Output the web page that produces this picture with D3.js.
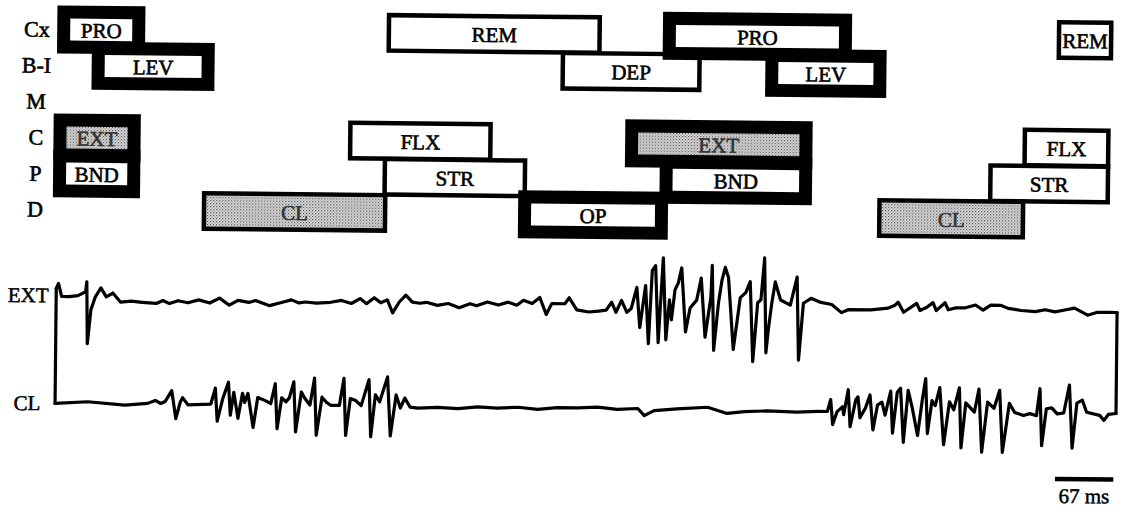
<!DOCTYPE html>
<html><head><meta charset="utf-8">
<script src="https://cdn.jsdelivr.net/npm/d3@7"></script>
<style>html,body{margin:0;padding:0;background:#fff;}svg{display:block;}</style>
</head><body>
<svg id="chart" width="1147" height="512"></svg>
<script>
// ---- data ----
const rows = ["Cx", "B-I", "M", "C", "P", "D"];
const traceNames = ["EXT", "CL"];

// open (outlined) phases, times in ms
const openPhases = [
  {row: "Cx",  label: "REM", start: 376,  end: 623,  stippled: false},
  {row: "B-I", label: "DEP", start: 576,  end: 738,  stippled: false},
  {row: "C",   label: "FLX", start: 333,  end: 499,  stippled: false},
  {row: "P",   label: "STR", start: 373,  end: 539,  stippled: false},
  {row: "D",   label: "CL",  start: 166,  end: 379,  stippled: true},
  {row: "Cx",  label: "REM", start: 1145, end: 1210, stippled: false},
  {row: "C",   label: "FLX", start: 1107, end: 1208, stippled: false},
  {row: "P",   label: "STR", start: 1068, end: 1208, stippled: false},
  {row: "D",   label: "CL",  start: 941,  end: 1111, stippled: true}
];
// heavy (bold-framed) phases, times in ms
const heavyPhases = [
  {row: "Cx",  label: "PRO", start: -2,  end: 99,  stippled: false},
  {row: "B-I", label: "LEV", start: 38,  end: 179, stippled: false},
  {row: "C",   label: "EXT", start: -5,  end: 95,  stippled: true},
  {row: "P",   label: "BND", start: -5,  end: 95,  stippled: false},
  {row: "Cx",  label: "PRO", start: 693, end: 910, stippled: false},
  {row: "B-I", label: "LEV", start: 811, end: 950, stippled: false},
  {row: "C",   label: "EXT", start: 651, end: 866, stippled: true},
  {row: "P",   label: "BND", start: 691, end: 866, stippled: false},
  {row: "D",   label: "OP",  start: 529, end: 701, stippled: false}
];

// EMG traces: [sample index, amplitude a.u.], sampled every samplePeriodMs
const samplePeriodMs = 1.25;
const extTrace = [
[0,11],[2,16],[5,3],[12,3],[20,4],[27,8],[28,18],[29,-44],[32,-10],[36,3],[41,12],[46,3],[52,7],[59,-2],[69,-1],[79,-2],[92,-3],[98,0],[104,-3],[112,0],[121,-2],[131,1],[141,-2],[150,3],[159,-4],[167,1],[177,-1],[183,1],[196,-4],[206,-1],[216,2],[223,-1],[229,0],[239,-1],[252,0],[262,2],[271,-1],[279,4],[285,-1],[292,5],[298,0],[304,3],[309,-10],[315,1],[321,8],[327,1],[334,0],[340,1],[350,-2],[360,0],[370,-4],[380,0],[386,-2],[396,2],[406,-1],[415,2],[423,-1],[429,4],[437,1],[444,7],[450,-10],[455,1],[467,1],[471,7],[478,-5],[489,-7],[498,-6],[505,-5],[510,3],[514,-7],[519,5],[524,-7],[528,-3],
[533,18],[536,-22],[541,20],[544,-38],[547,35],[550,40],[553,-37],[557,48],[560,-34],[563,6],[565,-14],[568,16],[571,23],[574,38],[578,-26],[582,-2],[588,6],[592,28],[596,-31],[601,9],[602,41],[604,-44],[608,3],[611,26],[614,39],[617,29],[622,-43],[628,9],[633,14],[637,25],[640,-55],[644,4],[647,7],[650,49],[652,-46],[654,-23],[657,4],[660,25],[665,7],[674,2],[680,30],[682,-53],[686,4],[693,9],[702,5],[712,3],[721,-5],[727,-2],[748,-2],[764,0],[770,3],[773,6],[778,-4],[790,5],[793,-2],[799,1],[805,6],[808,-2],[816,6],[819,-1],[826,1],[834,1],[844,4],[851,-1],[858,4],[867,4],[874,1],[886,-1],[899,-2],[908,0],[917,-2],[926,0],[935,2],[947,-5],[956,-2],[966,-2],[974,-2]
];
const clTrace = [
[0,-1],[30,1],[64,-2],[85,0],[92,3],[97,0],[101,2],[107,13],[111,-15],[115,2],[117,6],[122,-1],[143,0],[147,16],[149,-17],[154,6],[159,22],[161,-11],[164,12],[168,-14],[172,11],[174,2],[177,11],[182,-23],[186,7],[193,4],[198,1],[202,21],[204,-24],[208,7],[212,3],[215,7],[219,23],[221,-27],[226,13],[229,7],[234,0],[238,27],[240,-30],[245,8],[249,3],[253,0],[261,0],[265,27],[267,-30],[271,7],[276,5],[281,0],[288,26],[290,-31],[294,11],[298,4],[305,29],[308,-30],[313,11],[317,-2],[321,8],[326,-1],[333,-2],[351,-1],[370,-2],[388,0],[406,-1],[425,0],[443,-2],[461,0],[480,0],[498,1],[516,-1],[535,0],[541,-7],[550,-2],[571,0],[599,2],[617,-4],[633,-2],[654,-1],[681,-2],[700,-1],
[709,-1],[712,11],[714,-14],[718,-1],[723,4],[724,-4],[728,21],[730,-16],[735,11],[737,14],[739,-7],[744,3],[748,16],[751,-19],[755,6],[759,9],[762,-4],[767,20],[769,-22],[773,19],[776,23],[779,-31],[783,21],[787,3],[792,-24],[796,11],[799,33],[801,-22],[805,11],[808,6],[812,24],[816,-33],[821,10],[825,2],[830,24],[832,-36],[836,9],[844,0],[848,23],[851,-40],[856,10],[862,4],[867,22],[870,-40],[876,9],[881,0],[889,-3],[895,-1],[901,-3],[904,24],[906,-33],[910,4],[915,5],[920,-1],[926,0],[931,28],[934,-35],[938,10],[943,13],[947,1],[959,-2],[963,-7],[967,-1],[974,0]
];
const scaleBarMs = 67;
const scaleBarLabel = "67 ms";

// ---- drawing ----
const svg = d3.select("#chart");
const defs = svg.append("defs");
const pat = defs.append("pattern").attr("id", "stip").attr("patternUnits", "userSpaceOnUse")
  .attr("width", 3).attr("height", 3);
pat.append("rect").attr("width", 3).attr("height", 3).attr("fill", "#e4e4e4");
pat.append("rect").attr("x", 0).attr("y", 0).attr("width", 1.2).attr("height", 1.2).attr("fill", "#444");
pat.append("rect").attr("x", 1.5).attr("y", 1.5).attr("width", 1.2).attr("height", 1.2).attr("fill", "#777");

const g = svg.append("g").attr("transform", "rotate(0.6,590,220)");

const totalMs = d3.max(extTrace, d => d[0]) * samplePeriodMs;
const x = d3.scaleLinear().domain([0, totalMs]).range([57, 1118]);
const y = d3.scalePoint().domain(rows).range([35, 215]);
const yExt = d3.scaleLinear().domain([-60, 60]).range([365, 245]);
const yCl = d3.scaleLinear().domain([-60, 60]).range([468, 348]);

const font = "'Liberation Serif', 'Times New Roman', serif";
const thinH = 40, heavyH = 48, border = 13, sw = 4.5;

// row labels
g.append("g").selectAll("text").data(rows).join("text")
  .attr("x", 35).attr("y", d => y(d))
  .attr("text-anchor", "middle").attr("dominant-baseline", "central")
  .attr("font-family", font).attr("font-size", 22)
  .attr("fill", "#000").attr("stroke", "#000").attr("stroke-width", 0.6)
  .text(d => d);

// open phases
const og = g.append("g");
og.selectAll("rect").data(openPhases).join("rect")
  .attr("x", d => x(d.start) + sw / 2)
  .attr("y", d => y(d.row) - thinH / 2 + sw / 2)
  .attr("width", d => x(d.end) - x(d.start) - sw)
  .attr("height", thinH - sw)
  .attr("fill", d => d.stippled ? "url(#stip)" : "#fff")
  .attr("stroke", "#000").attr("stroke-width", sw);

// heavy phases: black frames first, then inner panels
const hg = g.append("g");
hg.selectAll("rect.outer").data(heavyPhases).join("rect").attr("class", "outer")
  .attr("x", d => x(d.start)).attr("y", d => y(d.row) - heavyH / 2)
  .attr("width", d => x(d.end) - x(d.start)).attr("height", heavyH)
  .attr("fill", "#000");
hg.selectAll("rect.inner").data(heavyPhases).join("rect").attr("class", "inner")
  .attr("x", d => x(d.start) + border).attr("y", d => y(d.row) - heavyH / 2 + border)
  .attr("width", d => x(d.end) - x(d.start) - 2 * border).attr("height", heavyH - 2 * border)
  .attr("fill", d => d.stippled ? "url(#stip)" : "#fff");

// phase labels
const labels = openPhases.concat(heavyPhases);
g.append("g").selectAll("text").data(labels).join("text")
  .attr("x", d => (x(d.start) + x(d.end)) / 2)
  .attr("y", d => y(d.row) + 1)
  .attr("text-anchor", "middle").attr("dominant-baseline", "central")
  .attr("font-family", font).attr("font-size", 21)
  .attr("fill", d => d.stippled ? "#333" : "#000")
  .attr("stroke", d => d.stippled ? "#333" : "#000").attr("stroke-width", 0.6)
  .text(d => d.label);

// traces
const tx = d => x(d[0] * samplePeriodMs);
const lineExt = d3.line().x(tx).y(d => yExt(d[1]));
const lineCl = d3.line().x(tx).y(d => yCl(d[1]));
const tg = g.append("g").attr("fill", "none").attr("stroke", "#000")
  .attr("stroke-width", 3.2).attr("stroke-linejoin", "round").attr("stroke-linecap", "round");
tg.append("path").attr("d", lineExt(extTrace));
tg.append("path").attr("d", lineCl(clTrace));
const e0 = extTrace[0], c0 = clTrace[0], e1 = extTrace[extTrace.length - 1], c1 = clTrace[clTrace.length - 1];
tg.append("line").attr("x1", tx(c0)).attr("y1", yCl(c0[1])).attr("x2", tx(e0)).attr("y2", yExt(e0[1]));
tg.append("line").attr("x1", tx(e1)).attr("y1", yExt(e1[1])).attr("x2", tx(c1)).attr("y2", yCl(c1[1]));

// trace labels
g.append("g").selectAll("text").data(traceNames).join("text")
  .attr("x", 29).attr("y", (d, i) => i === 0 ? yExt(0) - 4 : yCl(0) + 1)
  .attr("text-anchor", "middle").attr("dominant-baseline", "central")
  .attr("font-family", font).attr("font-size", 21)
  .attr("fill", "#000").attr("stroke", "#000").attr("stroke-width", 0.5)
  .text(d => d);

// scale bar
g.append("line")
  .attr("x1", x(totalMs - scaleBarMs) - 2).attr("x2", x(totalMs) - 2)
  .attr("y1", 474).attr("y2", 474)
  .attr("stroke", "#000").attr("stroke-width", 4.5);
g.append("text")
  .attr("x", (x(totalMs - scaleBarMs) + x(totalMs)) / 2 - 2).attr("y", 498)
  .attr("text-anchor", "middle")
  .attr("font-family", font).attr("font-size", 21)
  .attr("fill", "#000").attr("stroke", "#000").attr("stroke-width", 0.5)
  .text(scaleBarLabel);
</script>
</body></html>
